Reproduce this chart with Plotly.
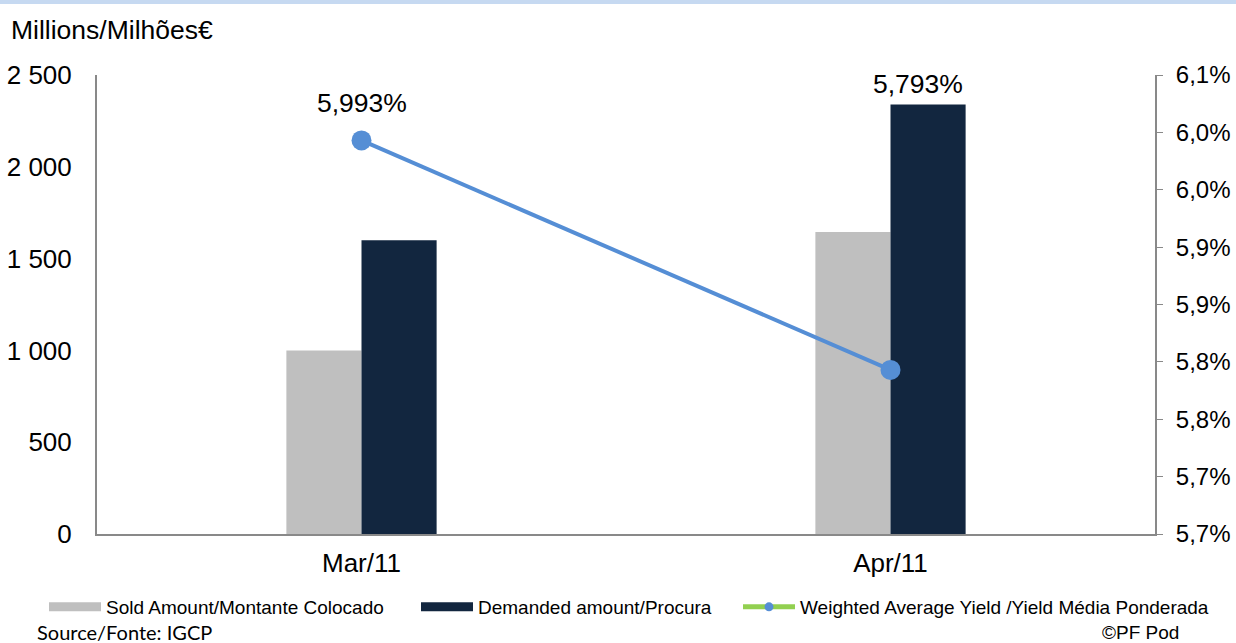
import plotly.graph_objects as go

categories = ["Mar/11", "Apr/11"]
sold = [1000, 1645]
demanded = [1600, 2340]
yield_avg = [5.993, 5.793]
yield_labels = ["5,993%", "5,793%"]

left_ticks = [0, 500, 1000, 1500, 2000, 2500]
left_ticktext = ["0", "500", "1 000", "1 500", "2 000", "2 500"]
right_ticks = [5.65, 5.70, 5.75, 5.80, 5.85, 5.90, 5.95, 6.00, 6.05]
right_ticktext = ["5,7%", "5,7%", "5,8%", "5,8%", "5,9%", "5,9%", "6,0%", "6,0%", "6,1%"]

series_names = ["Sold Amount/Montante Colocado", "Demanded amount/Procura",
                "Weighted Average Yield /Yield Média Ponderada"]

W, H = 1236, 643
ML, MR, MT, MB = 97, 81, 75, 109
plot_w = W - ML - MR
plot_h = H - MT - MB

FONT = "Liberation Sans, Arial, sans-serif"
AXIS_COL = "#898989"
SOLD_COL = "#BFBFBF"
DEM_COL = "#12263F"
LINE_COL = "#558ED5"


def px_x(px):
    return (px - ML) / plot_w


def px_y(py):
    return 1 - (py - MT) / plot_h


fig = go.Figure()
fig.add_trace(go.Bar(x=categories, y=sold, name=series_names[0], showlegend=False,
                     marker=dict(color=SOLD_COL, line=dict(width=0))))
fig.add_trace(go.Bar(x=categories, y=demanded, name=series_names[1], showlegend=False,
                     marker=dict(color=DEM_COL, line=dict(width=0))))
fig.add_trace(go.Scatter(x=categories, y=yield_avg, yaxis="y2", mode="lines+markers",
                         name=series_names[2], showlegend=False,
                         line=dict(color=LINE_COL, width=4),
                         marker=dict(color=LINE_COL, size=20)))

# legend entries styled like the reference (wide swatches)
fig.add_trace(go.Scatter(x=[None], y=[None], mode="lines", name=series_names[0],
                         line=dict(color=SOLD_COL, width=9), legend="legend"))
fig.add_trace(go.Scatter(x=[None], y=[None], mode="lines", name=series_names[1],
                         line=dict(color=DEM_COL, width=9), legend="legend2"))
fig.add_trace(go.Scatter(x=[None], y=[None], yaxis="y2", mode="lines+markers",
                         name=series_names[2], legend="legend3",
                         line=dict(color="#92D050", width=5),
                         marker=dict(color=LINE_COL, size=9)))

# data labels
label_shift = [(0, 37), (27, 286)]
for cat, val, txt, (dx, dy) in zip(categories, yield_avg, yield_labels, label_shift):
    fig.add_annotation(x=cat, y=val, yref="y2", text=txt, showarrow=False,
                       xshift=dx, yshift=dy, font=dict(size=26.5, color="#000000", family=FONT))

fig.add_annotation(xref="paper", yref="paper", x=px_x(9), y=px_y(30),
                   xanchor="left", yanchor="middle",
                   text="Millions/Milhões€", showarrow=False,
                   font=dict(size=26.5, color="#000000", family=FONT))
fig.add_annotation(xref="paper", yref="paper", x=px_x(35), y=px_y(632),
                   xanchor="left", yanchor="middle",
                   text="Source/Fonte: IGCP", showarrow=False,
                   font=dict(size=20, color="#000000", family="Lato, sans-serif"))
fig.add_annotation(xref="paper", yref="paper", x=px_x(1100), y=px_y(632),
                   xanchor="left", yanchor="middle",
                   text="©PF Pod", showarrow=False,
                   font=dict(size=19, color="#000000", family=FONT))

legend_common = dict(orientation="h", xanchor="left", yanchor="middle", y=px_y(607),
                     font=dict(size=19, family=FONT), itemwidth=52,
                     bgcolor="rgba(0,0,0,0)", borderwidth=0)

fig.update_layout(
    width=W, height=H,
    margin=dict(l=ML, r=MR, t=MT, b=MB, autoexpand=False),
    paper_bgcolor="white", plot_bgcolor="white",
    barmode="group", bargap=0.716, bargroupgap=0,
    font=dict(family=FONT, size=24, color="#000000"),
    showlegend=True,
    legend=dict(legend_common, x=px_x(44)),
    legend2=dict(legend_common, x=px_x(416)),
    legend3=dict(legend_common, x=px_x(738)),
    xaxis=dict(showline=True, linecolor=AXIS_COL, linewidth=2, ticks="", showgrid=False,
               tickfont=dict(size=26), ticklabelstandoff=5),
    yaxis=dict(range=[0, 2500], tickvals=left_ticks, ticktext=left_ticktext,
               showline=True, linecolor=AXIS_COL, linewidth=2, showgrid=False,
               zeroline=False, ticks="", tickfont=dict(size=26), ticklabelstandoff=18),
    yaxis2=dict(range=[5.65, 6.05], tickvals=right_ticks, ticktext=right_ticktext,
                overlaying="y", side="right", showline=True, linecolor=AXIS_COL,
                linewidth=2, showgrid=False, zeroline=False, ticks="outside",
                ticklen=6, tickcolor=AXIS_COL, tickwidth=1, tickfont=dict(size=24),
                ticklabelstandoff=8),
    shapes=[dict(type="rect", xref="paper", yref="paper",
                 x0=px_x(0), x1=px_x(W), y0=px_y(4), y1=px_y(0),
                 fillcolor="#C6D9F1", line=dict(width=0), layer="above")],
)

fig.write_html("out.html", post_script="document.body.style.margin='0px';",
               config={"displayModeBar": False})
